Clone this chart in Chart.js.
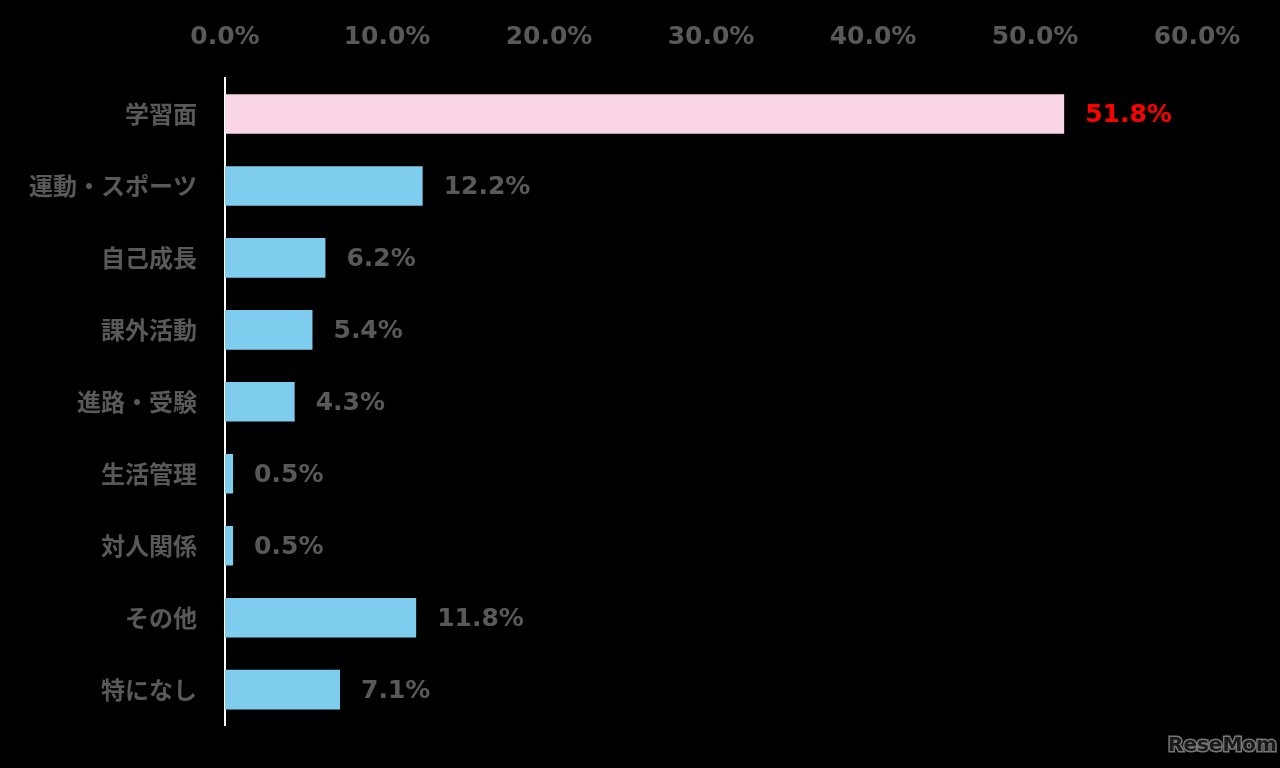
<!DOCTYPE html>
<html>
<head>
<meta charset="utf-8">
<script src="https://cdn.jsdelivr.net/npm/chart.js@4"></script>
<style>
  html, body { margin: 0; padding: 0; background: #000; }
  #wrap { width: 1280px; height: 768px; position: relative; }
</style>
</head>
<body>
<div id="wrap"><canvas id="chart" width="1280" height="768"></canvas></div>
<script>
// data
const categories = ['学習面', '運動・スポーツ', '自己成長', '課外活動', '進路・受験', '生活管理', '対人関係', 'その他', '特になし'];
const values = [51.8, 12.2, 6.2, 5.4, 4.3, 0.5, 0.5, 11.8, 7.1];
const barColors = ['#f9d5e5', '#7ecdee', '#7ecdee', '#7ecdee', '#7ecdee', '#7ecdee', '#7ecdee', '#7ecdee', '#7ecdee'];
const labelColors = ['#ff0000', '#595959', '#595959', '#595959', '#595959', '#595959', '#595959', '#595959', '#595959'];

const latinFont = '"DejaVu Sans", Verdana, sans-serif';
const jpFont = '"Noto Sans CJK JP", sans-serif';

// value labels to the right of each bar
const valueLabels = {
    id: 'valueLabels',
    afterDatasetsDraw(chart) {
        const ctx = chart.ctx;
        const meta = chart.getDatasetMeta(0);
        ctx.save();
        ctx.font = 'bold 25px ' + latinFont;
        ctx.textBaseline = 'middle';
        ctx.textAlign = 'left';
        meta.data.forEach((bar, i) => {
            ctx.fillStyle = labelColors[i];
            ctx.fillText(values[i].toFixed(1) + '%', bar.x + 21, bar.y + 2);
        });
        ctx.restore();
    }
};

// small watermark bottom right
const watermark = {
    id: 'watermark',
    afterDraw(chart) {
        const ctx = chart.ctx;
        ctx.save();
        ctx.font = 'bold 20px ' + latinFont;
        ctx.fillStyle = '#1a1a1a';
        ctx.strokeStyle = '#777';
        ctx.lineWidth = 3;
        ctx.textAlign = 'left';
        ctx.textBaseline = 'middle';
        ctx.strokeText('ReseMom', 1168, 746);
        ctx.fillText('ReseMom', 1168, 746);
        ctx.restore();
    }
};

const ctx = document.getElementById('chart').getContext('2d');
new Chart(ctx, {
    type: 'bar',
    data: {
        labels: categories,
        datasets: [{
            data: values,
            backgroundColor: barColors,
            borderWidth: 0,
            barPercentage: 0.55,
            categoryPercentage: 1.0
        }]
    },
    options: {
        indexAxis: 'y',
        responsive: false,
        animation: false,
        layout: { padding: { left: 0, right: 83, top: 0, bottom: 38 } },
        plugins: { legend: { display: false }, tooltip: { enabled: false } },
        scales: {
            x: {
                position: 'top',
                min: 0,
                max: 60,
                ticks: {
                    stepSize: 10,
                    color: '#595959',
                    font: { family: latinFont, size: 25, weight: 'bold' },
                    padding: 26,
                    callback: v => v.toFixed(1) + '%'
                },
                grid: { display: false, drawTicks: false },
                border: { display: false },
                afterFit: scale => { scale.height = 78; }
            },
            y: {
                ticks: {
                    color: '#595959',
                    font: { family: jpFont, size: 24, weight: 'bold' },
                    padding: 28
                },
                grid: { display: false, drawTicks: false },
                border: { display: true, color: '#ffffff', width: 2 },
                afterFit: scale => { scale.width = 225; }
            }
        }
    },
    plugins: [valueLabels, watermark]
});
</script>
</body>
</html>
